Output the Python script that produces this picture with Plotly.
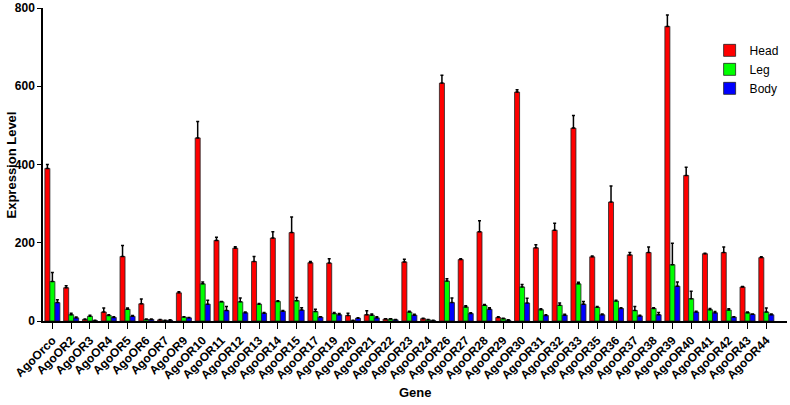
import plotly.graph_objects as go

genes = ["AgoOrco", "AgoOR2", "AgoOR3", "AgoOR4", "AgoOR5", "AgoOR6", "AgoOR7", "AgoOR9",
         "AgoOR10", "AgoOR11", "AgoOR12", "AgoOR13", "AgoOR14", "AgoOR15", "AgoOR17", "AgoOR19",
         "AgoOR20", "AgoOR21", "AgoOR22", "AgoOR23", "AgoOR24", "AgoOR26", "AgoOR27", "AgoOR28",
         "AgoOR29", "AgoOR30", "AgoOR31", "AgoOR32", "AgoOR33", "AgoOR35", "AgoOR36", "AgoOR37",
         "AgoOR38", "AgoOR39", "AgoOR40", "AgoOR41", "AgoOR42", "AgoOR43", "AgoOR44"]

head = [390, 85, 4, 23, 165, 44, 3, 72, 468, 206, 186, 152, 212, 226, 149, 148, 14, 16, 5, 151,
        6, 608, 157, 228, 9, 585, 187, 232, 493, 164, 304, 169, 175, 753, 372, 172, 175, 87, 162]
head_err = [10, 5, 1, 10, 28, 12, 1, 3, 42, 8, 4, 13, 16, 40, 3, 11, 6, 10, 1, 7,
            1, 20, 2, 28, 2, 6, 8, 18, 32, 2, 41, 6, 14, 29, 21, 1, 14, 1, 2]

leg = [101, 16, 12, 14, 30, 4, 1, 10, 95, 49, 49, 43, 50, 52, 24, 19, 1, 15, 5, 23,
       3, 102, 36, 40, 6, 87, 29, 40, 95, 35, 51, 27, 32, 144, 57, 29, 28, 21, 23]
leg_err = [23, 4, 3, 2, 3, 1, 1, 1, 5, 1, 10, 2, 2, 8, 6, 3, 1, 3, 1, 2,
           1, 6, 3, 2, 1, 6, 2, 6, 4, 2, 2, 10, 2, 55, 19, 3, 3, 2, 10]

body = [47, 8, 1, 9, 12, 4, 2, 8, 43, 27, 21, 20, 25, 28, 10, 16, 7, 8, 3, 15,
        1, 47, 19, 30, 2, 46, 14, 15, 43, 16, 32, 13, 16, 89, 23, 21, 10, 17, 16]
body_err = [7, 2, 1, 2, 2, 1, 1, 1, 10, 10, 2, 2, 2, 6, 1, 3, 1, 3, 1, 2,
            1, 12, 2, 4, 1, 12, 2, 2, 7, 2, 2, 2, 6, 11, 2, 3, 1, 1, 2]

series = [
    ("Head", head, head_err, "#FF0000"),
    ("Leg", leg, leg_err, "#00FF00"),
    ("Body", body, body_err, "#0000FF"),
]

fig = go.Figure()
for name, vals, errs, color in series:
    fig.add_trace(go.Bar(
        name=name, x=genes, y=vals,
        marker=dict(color=color, line=dict(color="#222222", width=0.8)),
        error_y=dict(type="data", array=errs, arrayminus=[0] * len(errs), symmetric=False,
                     color="black", thickness=1.5, width=1.5),
    ))

font = "Arial, Liberation Sans, sans-serif"
fig.update_layout(
    width=790, height=405,
    margin=dict(l=43, r=3, t=8, b=84),
    barmode="group", bargap=0.2, bargroupgap=0,
    plot_bgcolor="white", paper_bgcolor="white",
    font=dict(family=font, color="black"),
    legend=dict(x=0.896, y=0.911, xanchor="left", yanchor="top",
                font=dict(size=12, family=font), tracegroupgap=0,
                bgcolor="rgba(0,0,0,0)"),
    xaxis=dict(
        type="category", range=[-0.5, 39.1], automargin=False,
        showline=True, linecolor="black", linewidth=1.5,
        ticks="outside", ticklen=6, tickwidth=1.2, tickcolor="black",
        tickangle=-45, tickfont=dict(size=12, family=font, weight="bold"),
        showgrid=False, zeroline=False,
    ),
    yaxis=dict(
        range=[0, 800], tickvals=[0, 200, 400, 600, 800], automargin=False,
        showline=True, linecolor="black", linewidth=1.5,
        ticks="outside", ticklen=4, tickwidth=1.2, tickcolor="black",
        tickfont=dict(size=12, family=font, weight="bold"),
        showgrid=False, zeroline=False,
    ),
    annotations=[
        dict(text="<b>Gene</b>", x=0.5, y=-0.227, xref="paper", yref="paper",
             xanchor="center", yanchor="middle", showarrow=False,
             font=dict(size=13, family=font)),
        dict(text="<b>Expression Level</b>", x=-0.0417, y=0.5, xref="paper", yref="paper",
             xanchor="center", yanchor="middle", textangle=-90, showarrow=False,
             font=dict(size=13, family=font)),
    ],
)

# the page's default body margin would push the 790x405 figure off the window
fig.write_html("out.html", config={"displayModeBar": False},
               post_script="document.body.style.margin = '0';")
